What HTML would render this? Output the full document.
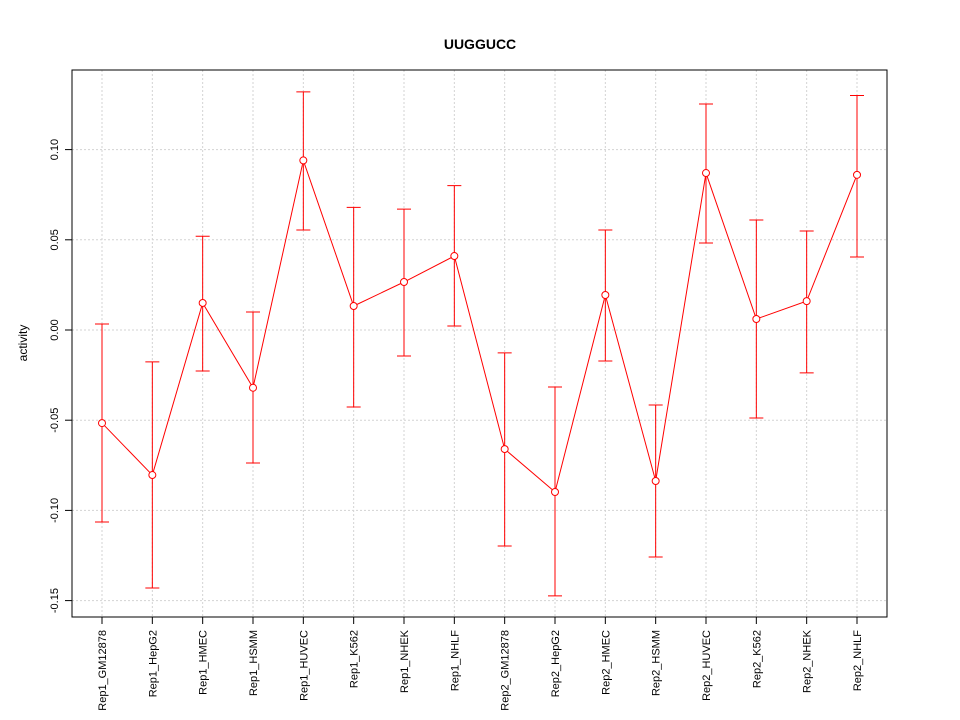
<!DOCTYPE html>
<html><head><meta charset="utf-8"><style>body{margin:0;background:#fff}svg{display:block;font-family:"Liberation Sans",sans-serif}</style></head>
<body>
<svg id="chart" width="960" height="720" xmlns="http://www.w3.org/2000/svg">
<text x="480" y="49" text-anchor="middle" font-size="14" font-weight="bold">UUGGUCC</text>
<text transform="translate(27,343) rotate(-90)" text-anchor="middle" font-size="12">activity</text>
<g id="grid"></g>
<g id="axes"></g>
<g id="series"></g>
<rect x="72" y="70" width="815" height="547" fill="none" stroke="#000"/>
</svg>
<script>
const categories=["Rep1_GM12878","Rep1_HepG2","Rep1_HMEC","Rep1_HSMM","Rep1_HUVEC","Rep1_K562","Rep1_NHEK","Rep1_NHLF","Rep2_GM12878","Rep2_HepG2","Rep2_HMEC","Rep2_HSMM","Rep2_HUVEC","Rep2_K562","Rep2_NHEK","Rep2_NHLF"];
const values=[-0.0516,-0.0804,0.015,-0.032,0.094,0.0133,0.0266,0.041,-0.066,-0.0898,0.0194,-0.0837,0.087,0.0061,0.016,0.086];
const upper=[0.0033,-0.0177,0.052,0.010,0.132,0.068,0.067,0.080,-0.0127,-0.0316,0.0554,-0.0416,0.1253,0.061,0.0549,0.130];
const lower=[-0.1064,-0.143,-0.0227,-0.0737,0.0554,-0.0427,-0.0144,0.0022,-0.1197,-0.1474,-0.0172,-0.1258,0.0482,-0.0488,-0.0238,0.0405];
const yTicks=[0.10,0.05,0.00,-0.05,-0.10,-0.15];
const yTickLabels=["0.10","0.05","0.00","-0.05","-0.10","-0.15"];
const NS="http://www.w3.org/2000/svg";
function xs(i){return 102+i*(857-102)/(categories.length-1);}
function ys(v){return 330-v*1804;}
function mk(p,tag,a){const e=document.createElementNS(NS,tag);for(const k in a)e.setAttribute(k,a[k]);p.appendChild(e);return e;}
const grid=document.getElementById('grid'),axes=document.getElementById('axes'),ser=document.getElementById('series');
categories.forEach((c,i)=>{
 const g=mk(grid,'line',{x1:xs(i),x2:xs(i),y1:70,y2:617,stroke:'#d3d3d3','stroke-dasharray':'2,2'});
 
 const t=mk(axes,'line',{x1:xs(i),x2:xs(i),y1:617,y2:624,stroke:'#000'});
 
 const l=mk(axes,'text',{transform:`translate(${xs(i)+4},630) rotate(-90)`,'text-anchor':'end','font-size':'11'});
 l.textContent=c;
});
yTicks.forEach((v,i)=>{
 const g=mk(grid,'line',{x1:72,x2:887,y1:ys(v),y2:ys(v),stroke:'#d3d3d3','stroke-dasharray':'2,2'});
 
 const t=mk(axes,'line',{x1:65,x2:72,y1:ys(v),y2:ys(v),stroke:'#000'});
 
 const l=mk(axes,'text',{transform:`translate(58,${ys(v)}) rotate(-90)`,'text-anchor':'middle','font-size':'11'});
 l.textContent=yTickLabels[i];
});
const pl=mk(ser,'polyline',{points:values.map((v,i)=>xs(i)+','+ys(v)).join(' '),fill:'none',stroke:'#ff0000'});

values.forEach((v,i)=>{
 const x=xs(i);
 const e=mk(ser,'path',{d:`M${x},${ys(upper[i])}V${ys(lower[i])}M${x-7},${ys(upper[i])}H${x+7}M${x-7},${ys(lower[i])}H${x+7}`,stroke:'#ff0000',fill:'none'});
 
 const p=mk(ser,'circle',{cx:x,cy:ys(v),r:3.5,fill:'#fff',stroke:'#ff0000'});
 
});
</script>
</body></html>
